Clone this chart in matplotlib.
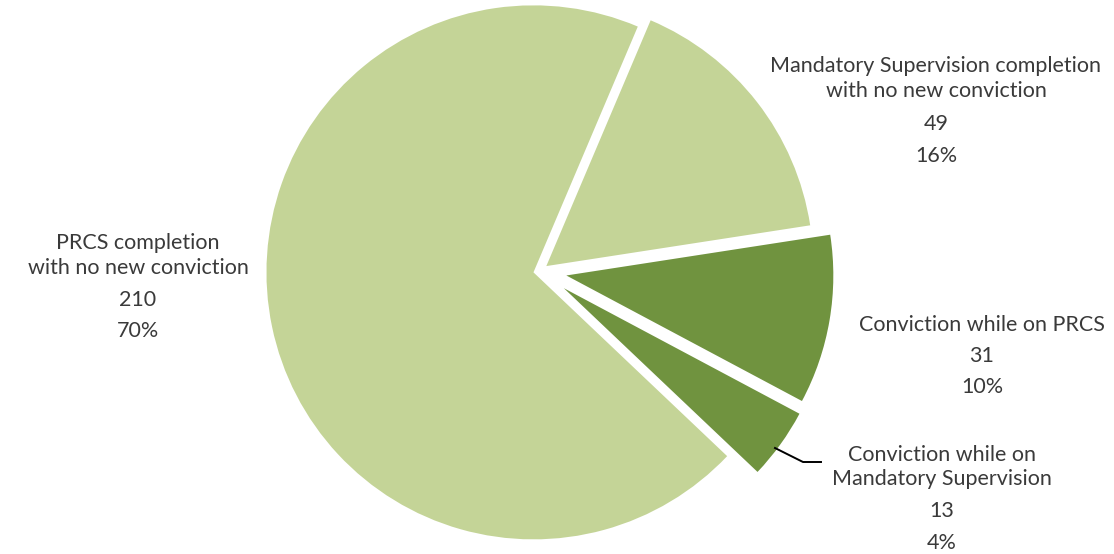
import matplotlib.pyplot as plt
import numpy as np

# slice order clockwise, starting at the top gap
categories = ["Mandatory Supervision completion\nwith no new conviction",
              "Conviction while on PRCS",
              "Conviction while on\nMandatory Supervision",
              "PRCS completion\nwith no new conviction"]
counts = [49, 31, 13, 210]
percents = ["16%", "10%", "4%", "70%"]

light = "#C4D497"
dark = "#70933F"
colors = [light, dark, dark, light]
explode = [0.03, 0.10, 0.11, 0.025]

W, H = 1114, 554
cx, cy, R = 540, 271, 267   # pie centre / radius in pixels

fig = plt.figure(figsize=(W / 100, H / 100), dpi=100)
ax = fig.add_axes([0, 0, 1, 1])
ax.axis("off")

ax.pie(counts, colors=colors, explode=explode, startangle=67, counterclock=False,
       radius=1.0, wedgeprops=dict(linewidth=0), frame=False)
ax.set_xlim(-cx / R, (W - cx) / R)
ax.set_ylim(-(H - cy) / R, cy / R)
ax.set_aspect("auto")


def px(x, y):
    return (x - cx) / R, (cy - y) / R


# label lines: (pixel x centre, pixel y of each line)
label_pos = [
    (936, [66, 91, 124, 156]),
    (982, [325, 356, 387]),
    (942, [455, 479, 511, 543]),
    (138, [243, 268, 300, 331]),
]
font = dict(family="Lato", fontsize=15.5, color="#3a3a3a", ha="center", va="center")
for cat, n, p, (x, ys) in zip(categories, counts, percents, label_pos):
    lines = cat.split("\n") + [str(n), p]
    for t, y in zip(lines, ys):
        ax.text(*px(x, y), t, **font)

# leader line for the small slice
lx = [775, 803, 821]
ly = [448, 462, 462]
ax.plot(*zip(*[px(a, b) for a, b in zip(lx, ly)]), color="black", lw=1.4)

fig.savefig("out.png", dpi=100)
